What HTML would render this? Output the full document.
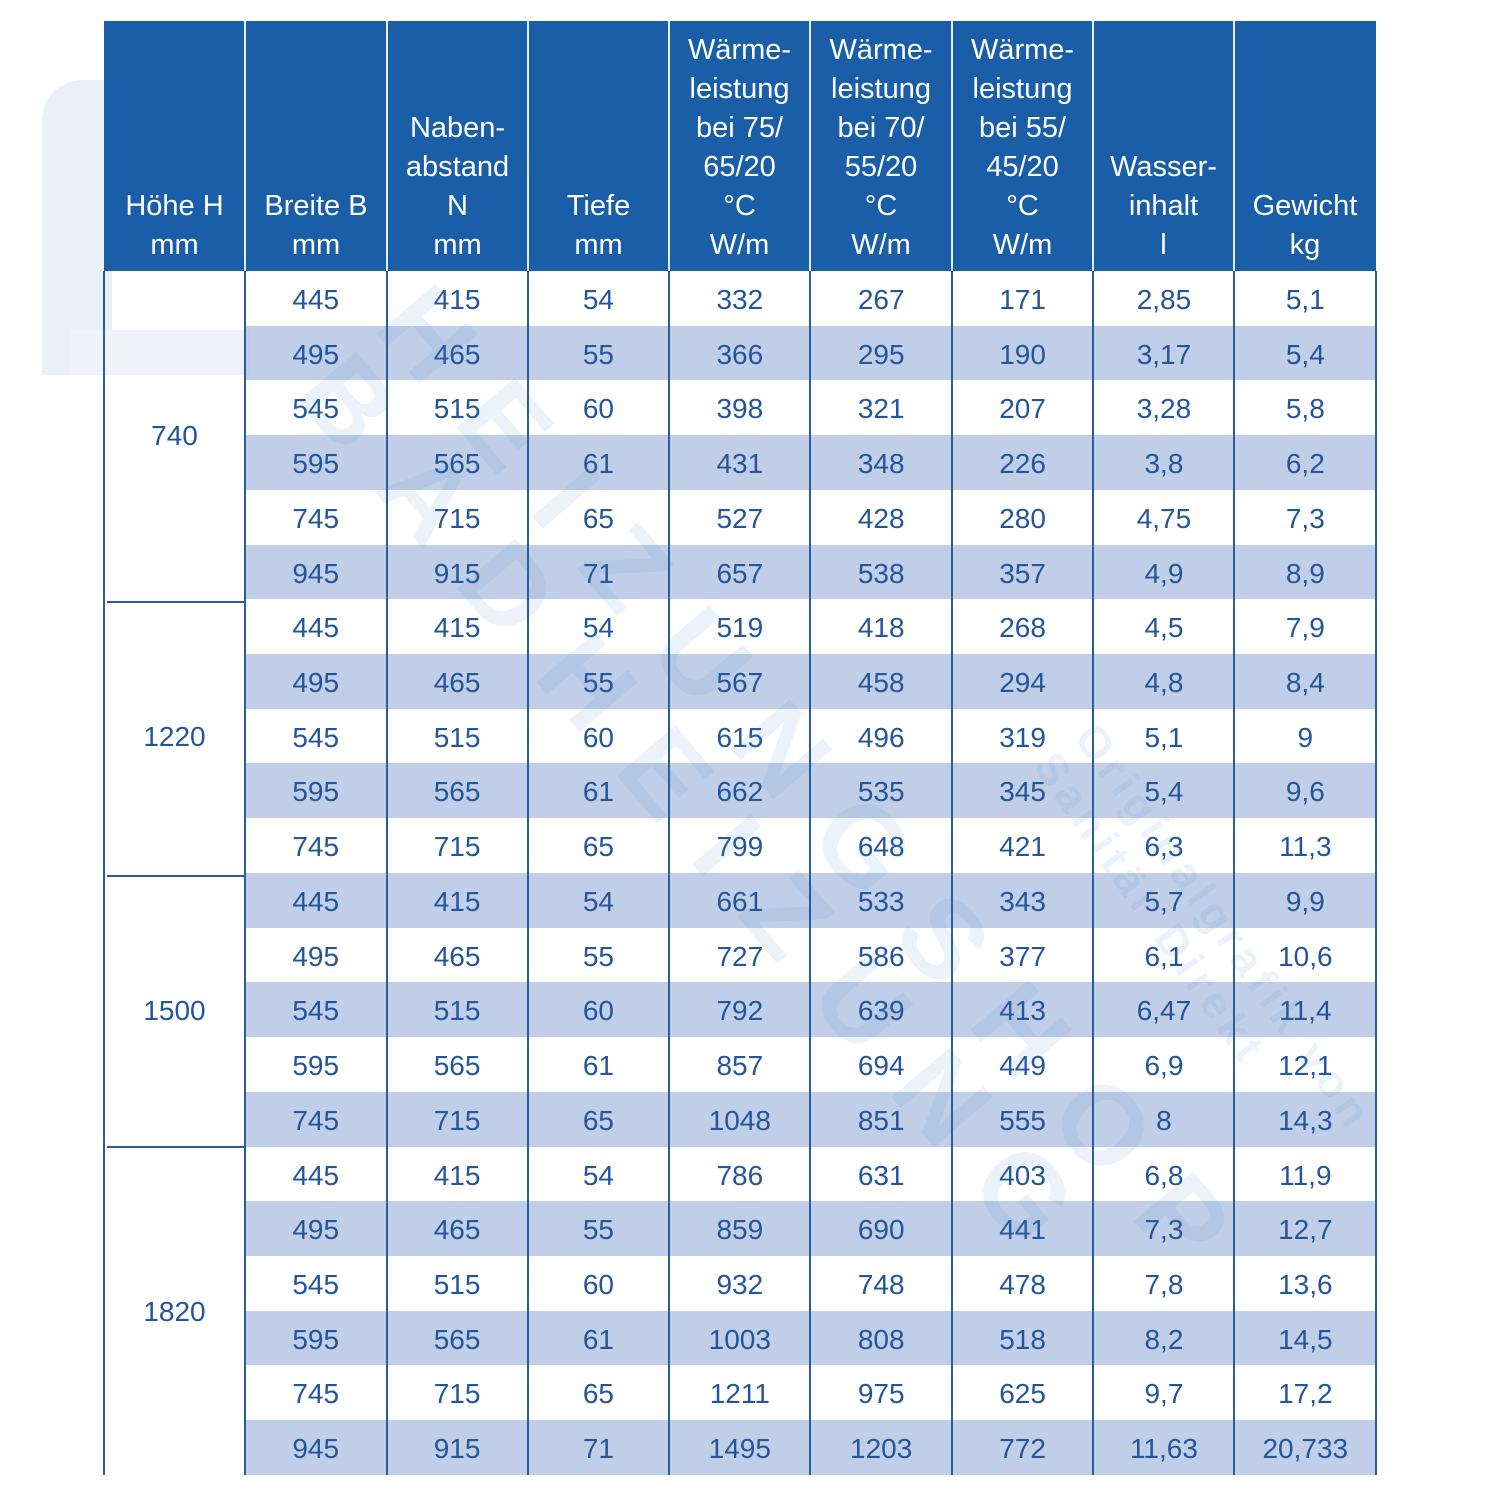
<!DOCTYPE html>
<html><head><meta charset="utf-8"><style>
html,body{margin:0;padding:0;background:#fff;}
body{width:1500px;height:1500px;position:relative;overflow:hidden;font-family:"Liberation Sans",sans-serif;}
.wm{position:absolute;pointer-events:none;}
.hdr{position:absolute;top:21px;left:104px;width:1272px;height:250px;background:#1a5ea8;}
.hc{position:absolute;top:21px;height:250px;display:flex;flex-direction:column;justify-content:flex-end;align-items:center;box-sizing:border-box;padding-bottom:6.5px;color:#fff;font-size:29px;line-height:39px;text-align:center;white-space:nowrap;}
.hs{position:absolute;top:21px;height:250px;width:2px;background:#e8eef7;}
.rows{position:absolute;left:245px;top:271px;width:1131px;}
.r{height:54.727px;display:grid;grid-template-columns:repeat(8,1fr);}
.r span{display:block;text-align:center;font-size:28px;line-height:54.727px;padding-top:2px;box-sizing:border-box;color:#23559a;}
.s{background:rgba(178,197,226,0.82);}
.vl{position:absolute;top:271px;height:1204px;width:2px;background:#2b5c9b;}
.gl{position:absolute;left:107px;width:138px;height:2px;background:#2b5c9b;}
.g{position:absolute;left:104px;width:141px;display:flex;align-items:center;justify-content:center;font-size:28px;color:#23559a;padding-top:2px;box-sizing:border-box;}
</style></head><body>

<!-- faint watermark shapes -->
<div class="wm" style="left:42px;top:80px;width:70px;height:295px;background:#eaf0f8;border-top-left-radius:40px;"></div>
<div class="wm" style="left:70px;top:330px;width:180px;height:45px;background:#eef3fa;"></div>

<div class="hdr"></div>
<div class="hc" style="left:104px;width:141px;"><div>Höhe H</div><div>mm</div></div>
<div class="hc" style="left:245px;width:142px;"><div>Breite B</div><div>mm</div></div>
<div class="hc" style="left:387px;width:141px;"><div>Naben-</div><div>abstand</div><div>N</div><div>mm</div></div>
<div class="hc" style="left:528px;width:141px;"><div>Tiefe</div><div>mm</div></div>
<div class="hc" style="left:669px;width:141px;"><div>Wärme-</div><div>leistung</div><div>bei 75/</div><div>65/20</div><div>°C</div><div>W/m</div></div>
<div class="hc" style="left:810px;width:142px;"><div>Wärme-</div><div>leistung</div><div>bei 70/</div><div>55/20</div><div>°C</div><div>W/m</div></div>
<div class="hc" style="left:952px;width:141px;"><div>Wärme-</div><div>leistung</div><div>bei 55/</div><div>45/20</div><div>°C</div><div>W/m</div></div>
<div class="hc" style="left:1093px;width:141px;"><div>Wasser-</div><div>inhalt</div><div>l</div></div>
<div class="hc" style="left:1234px;width:142px;"><div>Gewicht</div><div>kg</div></div>

<div class="hs" style="left:244px;"></div>
<div class="hs" style="left:386px;"></div>
<div class="hs" style="left:527px;"></div>
<div class="hs" style="left:668px;"></div>
<div class="hs" style="left:809px;"></div>
<div class="hs" style="left:951px;"></div>
<div class="hs" style="left:1092px;"></div>
<div class="hs" style="left:1233px;"></div>

<div class="rows">
<div class="r"><span>445</span><span>415</span><span>54</span><span>332</span><span>267</span><span>171</span><span>2,85</span><span>5,1</span></div>
<div class="r s"><span>495</span><span>465</span><span>55</span><span>366</span><span>295</span><span>190</span><span>3,17</span><span>5,4</span></div>
<div class="r"><span>545</span><span>515</span><span>60</span><span>398</span><span>321</span><span>207</span><span>3,28</span><span>5,8</span></div>
<div class="r s"><span>595</span><span>565</span><span>61</span><span>431</span><span>348</span><span>226</span><span>3,8</span><span>6,2</span></div>
<div class="r"><span>745</span><span>715</span><span>65</span><span>527</span><span>428</span><span>280</span><span>4,75</span><span>7,3</span></div>
<div class="r s"><span>945</span><span>915</span><span>71</span><span>657</span><span>538</span><span>357</span><span>4,9</span><span>8,9</span></div>
<div class="r"><span>445</span><span>415</span><span>54</span><span>519</span><span>418</span><span>268</span><span>4,5</span><span>7,9</span></div>
<div class="r s"><span>495</span><span>465</span><span>55</span><span>567</span><span>458</span><span>294</span><span>4,8</span><span>8,4</span></div>
<div class="r"><span>545</span><span>515</span><span>60</span><span>615</span><span>496</span><span>319</span><span>5,1</span><span>9</span></div>
<div class="r s"><span>595</span><span>565</span><span>61</span><span>662</span><span>535</span><span>345</span><span>5,4</span><span>9,6</span></div>
<div class="r"><span>745</span><span>715</span><span>65</span><span>799</span><span>648</span><span>421</span><span>6,3</span><span>11,3</span></div>
<div class="r s"><span>445</span><span>415</span><span>54</span><span>661</span><span>533</span><span>343</span><span>5,7</span><span>9,9</span></div>
<div class="r"><span>495</span><span>465</span><span>55</span><span>727</span><span>586</span><span>377</span><span>6,1</span><span>10,6</span></div>
<div class="r s"><span>545</span><span>515</span><span>60</span><span>792</span><span>639</span><span>413</span><span>6,47</span><span>11,4</span></div>
<div class="r"><span>595</span><span>565</span><span>61</span><span>857</span><span>694</span><span>449</span><span>6,9</span><span>12,1</span></div>
<div class="r s"><span>745</span><span>715</span><span>65</span><span>1048</span><span>851</span><span>555</span><span>8</span><span>14,3</span></div>
<div class="r"><span>445</span><span>415</span><span>54</span><span>786</span><span>631</span><span>403</span><span>6,8</span><span>11,9</span></div>
<div class="r s"><span>495</span><span>465</span><span>55</span><span>859</span><span>690</span><span>441</span><span>7,3</span><span>12,7</span></div>
<div class="r"><span>545</span><span>515</span><span>60</span><span>932</span><span>748</span><span>478</span><span>7,8</span><span>13,6</span></div>
<div class="r s"><span>595</span><span>565</span><span>61</span><span>1003</span><span>808</span><span>518</span><span>8,2</span><span>14,5</span></div>
<div class="r"><span>745</span><span>715</span><span>65</span><span>1211</span><span>975</span><span>625</span><span>9,7</span><span>17,2</span></div>
<div class="r s"><span>945</span><span>915</span><span>71</span><span>1495</span><span>1203</span><span>772</span><span>11,63</span><span>20,733</span></div>
</div>

<!-- diagonal watermark -->
<div class="wm" style="left:440px;top:270px;transform-origin:0 0;transform:rotate(49.5deg);font-weight:bold;font-size:112px;line-height:104px;letter-spacing:42px;color:rgba(70,125,200,0.10);white-space:nowrap;">
<div>HEIZUNGSHOP</div><div>BADHEIZUNG</div>
</div>
<div class="wm" style="left:1105px;top:715px;transform-origin:0 0;transform:rotate(55deg);font-weight:bold;font-size:44px;line-height:50px;letter-spacing:6px;color:rgba(70,125,200,0.10);white-space:nowrap;">
<div>Originalgrafik von</div><div>Sanitär Direkt</div>
</div>

<div class="g" style="top:271px;height:328.4px;">740</div>
<div class="g" style="top:599.4px;height:273.6px;">1220</div>
<div class="g" style="top:873px;height:273.6px;">1500</div>
<div class="g" style="top:1146.6px;height:328.4px;">1820</div>

<div class="gl" style="top:600.5px;"></div>
<div class="gl" style="top:874.5px;"></div>
<div class="gl" style="top:1146px;"></div>

<div class="vl" style="left:103px;"></div>
<div class="vl" style="left:244px;"></div>
<div class="vl" style="left:386px;"></div>
<div class="vl" style="left:527px;"></div>
<div class="vl" style="left:668px;"></div>
<div class="vl" style="left:809px;"></div>
<div class="vl" style="left:951px;"></div>
<div class="vl" style="left:1092px;"></div>
<div class="vl" style="left:1233px;"></div>
<div class="vl" style="left:1375px;"></div>
</body></html>
